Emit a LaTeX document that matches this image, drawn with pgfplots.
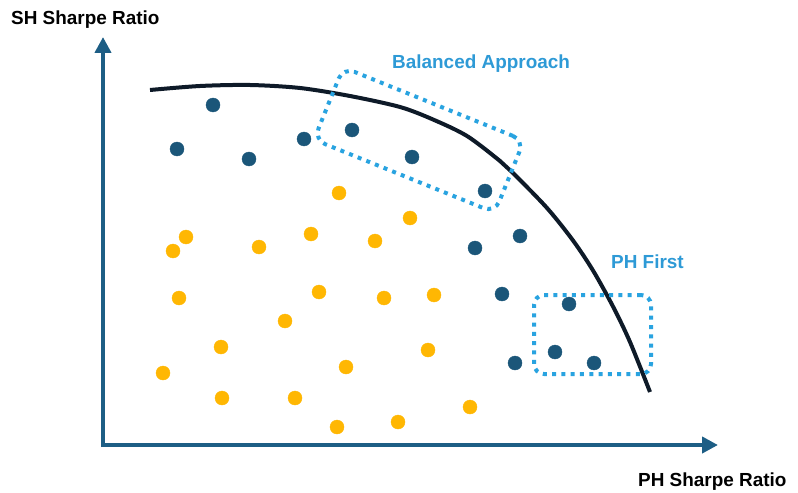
\documentclass[border=0pt]{standalone}
\usepackage{pgfplots}
\pgfplotsset{compat=1.18}
\usepackage{fontspec}
\setmainfont{Liberation Sans}
\usetikzlibrary{arrows.meta}
\definecolor{darkdot}{HTML}{1B5679}
\definecolor{axiscol}{HTML}{1D5E85}
\definecolor{yellowdot}{HTML}{FFB703}
\definecolor{boxcol}{HTML}{29A3E0}
\definecolor{textblue}{HTML}{2E9AD6}
\definecolor{curvecol}{HTML}{0E1A28}
\begin{document}
\begin{tikzpicture}
\begin{axis}[
  width=798bp, height=493bp, scale only axis,
  xmin=0, xmax=798, ymin=0, ymax=493,
  y dir=reverse,
  hide axis, clip=false,
]
\addplot[draw=none, forget plot] coordinates {(0,0) (798,493)};
% axes arrows
\addplot[axiscol, line width=4bp, -{Triangle[length=16bp,width=16bp]}] coordinates {(103,447) (103,37)};
\addplot[axiscol, line width=4bp, -{Triangle[length=16bp,width=16bp]}] coordinates {(101,445) (718,445)};
% frontier curve
\addplot[curvecol, line width=4bp, smooth] coordinates {
(150,90) (200,86) (250,85) (300,88) (350,96) (400,107) (433,119.5) (467,136)
(500,161) (513,173) (547,208) (573,240.5) (593,270.5) (613,306.5) (630,342) (650,392)};
% yellow dots
\addplot[only marks, mark=*, mark size=7bp, color=yellowdot, mark options={draw=yellowdot, fill=yellowdot}] coordinates {
(339,193) (410,218) (186,237) (173,251) (259,247) (311,234) (375,241)
(179,298) (319,292) (384,298) (434,295) (285,321) (221,347) (428,350)
(346,367) (163,373) (222,398) (295,398) (337,427) (398,422) (470,407)};
% dark dots
\addplot[only marks, mark=*, mark size=7bp, color=darkdot, mark options={draw=darkdot, fill=darkdot}] coordinates {
(213,105) (177,149) (249,159) (304,139) (352,130) (412,157) (485,191)
(475,248) (520,236) (502,294) (569,304) (555,352) (594,363) (515,363)};
% boxes
\node[draw=boxcol, line width=4bp, dash pattern=on 4bp off 5.3bp, rounded corners=12bp,
  minimum width=195bp, minimum height=78bp, inner sep=0pt, rotate=-22]
  at (axis cs:419,140) {};
\node[draw=boxcol, line width=4bp, dash pattern=on 4bp off 5.3bp, rounded corners=10bp,
  minimum width=117bp, minimum height=79bp, inner sep=0pt]
  at (axis cs:592.5,334.5) {};
% labels
\node[anchor=base west, inner sep=0pt, font=\fontsize{19}{22}\selectfont\bfseries, text=black] at (axis cs:11,25) {SH Sharpe Ratio};
\node[anchor=base west, inner sep=0pt, font=\fontsize{19}{22}\selectfont\bfseries, text=black] at (axis cs:638,486) {PH Sharpe Ratio};
\node[anchor=base west, inner sep=0pt, font=\fontsize{19}{22}\selectfont\bfseries, text=textblue] at (axis cs:392,69) {Balanced Approach};
\node[anchor=base west, inner sep=0pt, font=\fontsize{19}{22}\selectfont\bfseries, text=textblue] at (axis cs:611,268) {PH First};
\end{axis}
\end{tikzpicture}
\end{document}
